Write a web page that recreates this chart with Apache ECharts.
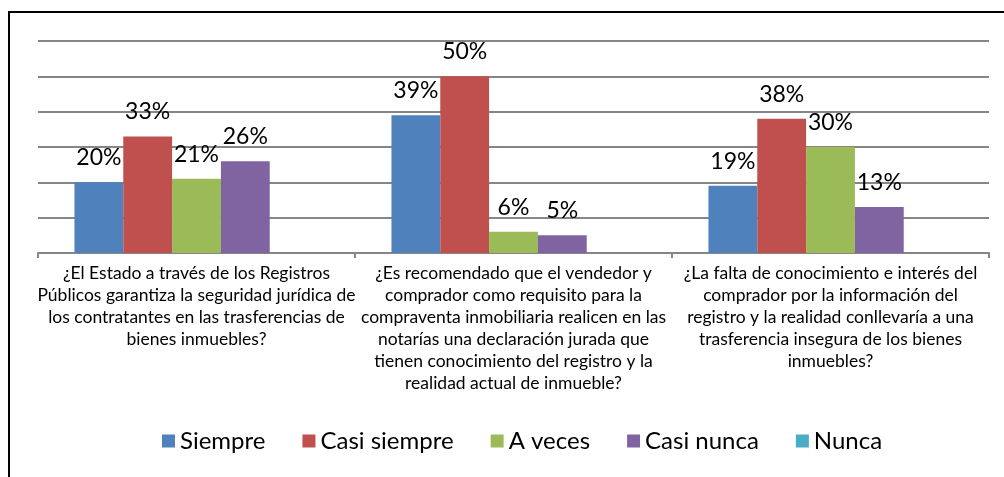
<!DOCTYPE html>
<html>
<head>
<meta charset="utf-8">
<script src="https://cdn.jsdelivr.net/npm/echarts@6/dist/echarts.min.js"></script>
<style>
  html, body { margin: 0; padding: 0; background: #fff; }
  #chart { width: 1004px; height: 477px; }
</style>
</head>
<body>
<div id="chart"></div>
<script>
// preguntas (eje x)
var categories = [
  "¿El Estado a través de los Registros\nPúblicos garantiza la seguridad jurídica de\nlos contratantes en las trasferencias de\nbienes inmuebles?",
  "¿Es recomendado que el vendedor y\ncomprador como requisito para la\ncompraventa inmobiliaria realicen en las\nnotarías una declaración jurada que\ntienen conocimiento del registro y la\nrealidad actual de inmueble?",
  "¿La falta de conocimiento e interés del\ncomprador por la información del\nregistro y la realidad conllevaría a una\ntrasferencia insegura de los bienes\ninmuebles?"
];
var seriesNames = ["Siempre", "Casi siempre", "A veces", "Casi nunca", "Nunca"];
var siempre = [20, 39, 19];
var casiSiempre = [33, 50, 38];
var aVeces = [21, 6, 30];
var casiNunca = [26, 5, 13];
var nunca = ["-", "-", "-"];
var colors = ["#4F81BD", "#C0504D", "#9BBB59", "#8064A2", "#4BACC6"];

var allData = [siempre, casiSiempre, aVeces, casiNunca, nunca];
var FONT = "Lato, 'Open Sans', sans-serif";

var series = seriesNames.map(function(name, i) {
  return {
    name: name,
    type: "bar",
    barGap: "0%",
    barCategoryGap: "23%",
    data: allData[i],
    itemStyle: { color: colors[i] },
    label: {
      show: true,
      position: "top",
      distance: 13,
      formatter: "{c}%",
      color: "#000",
      fontSize: 23,
      fontFamily: FONT
    }
  };
});

var myChart = echarts.init(document.getElementById("chart"));
myChart.setOption({
  animation: false,
  color: colors,
  graphic: [
    {
      type: "rect",
      shape: { x: 9, y: 12, width: 1100, height: 600 },
      style: { fill: "none", stroke: "#000", lineWidth: 2 },
      silent: true
    }
  ],
  grid: { left: 38, right: 15, top: 41, bottom: 224 },
  legend: {
    data: seriesNames,
    bottom: 19,
    left: 157,
    icon: "rect",
    itemWidth: 13,
    itemHeight: 13,
    itemGap: 37,
    textStyle: { fontSize: 24, color: "#000", fontFamily: FONT }
  },
  xAxis: {
    type: "category",
    data: categories,
    axisLine: { lineStyle: { color: "#868686", width: 2 } },
    axisTick: { show: true, length: 5, lineStyle: { color: "#868686", width: 2 } },
    axisLabel: {
      interval: 0,
      margin: 9,
      color: "#000",
      fontSize: 17.5,
      lineHeight: 22,
      fontFamily: FONT
    }
  },
  yAxis: {
    type: "value",
    min: 0,
    max: 60,
    interval: 10,
    axisLabel: { show: false },
    axisLine: { show: false },
    axisTick: { show: false },
    splitLine: { lineStyle: { color: "#868686", width: 2 } }
  },
  series: series
});
window.onresize = function() {
  myChart.resize();
};
</script>
</body>
</html>
